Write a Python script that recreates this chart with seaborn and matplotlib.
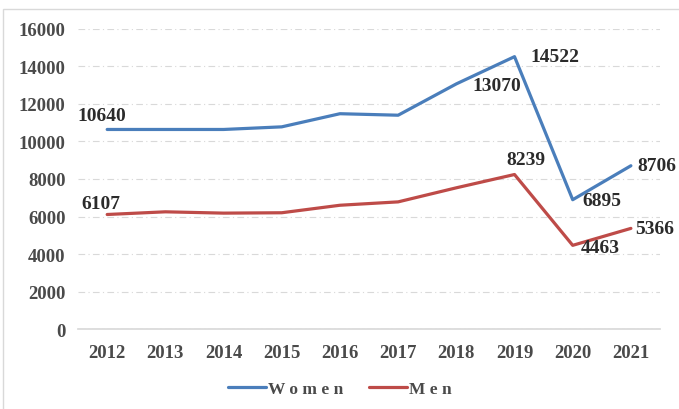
import pandas as pd
import matplotlib.pyplot as plt
import seaborn as sns
from matplotlib.patches import Rectangle

years = [2012, 2013, 2014, 2015, 2016, 2017, 2018, 2019, 2020, 2021]
women = [10640, 10640, 10640, 10780, 11480, 11400, 13070, 14522, 6895, 8706]
men = [6107, 6250, 6180, 6200, 6600, 6780, 7530, 8239, 4463, 5366]

df = pd.DataFrame({'Year': years * 2,
                   'Value': women + men,
                   'Group': ['Women'] * len(years) + ['Men'] * len(years)})

sns.set_theme(style='white')
plt.rcParams['font.family'] = ['Liberation Serif', 'DejaVu Serif']
plt.rcParams['font.weight'] = 'bold'

fig = plt.figure(figsize=(6.79, 4.10), dpi=100)
ax = fig.add_axes([0.115, 0.195, 0.857, 0.732])

sns.lineplot(data=df, x='Year', y='Value', hue='Group',
             palette={'Women': '#4a7ebb', 'Men': '#be4b48'},
             linewidth=2.3, ax=ax, legend=False)

ax.set_xlim(2011.5, 2021.5)
ax.set_ylim(0, 16000)
ax.set_yticks(range(0, 16001, 2000))
ax.set_xticks(years)
ax.set_xlabel('')
ax.set_ylabel('')
ax.grid(axis='y', color='#d9d9d9', linestyle=(0, (6, 3, 1, 3)), linewidth=0.8)
ax.set_axisbelow(True)
for s in ['top', 'right', 'left']:
    ax.spines[s].set_visible(False)
ax.spines['bottom'].set_color('#d9d9d9')
ax.tick_params(axis='both', length=0, labelsize=13.5, labelcolor='#4a4a4a')
ax.tick_params(axis='x', pad=11)
ax.tick_params(axis='y', pad=9)
for t in ax.get_xticklabels() + ax.get_yticklabels():
    t.set_fontweight('bold')

# data labels (year index, series, offset px, alignment)
labels = [
    (0, women, (-5, 14), 'center'),
    (6, women, (16, -2), 'left'),
    (7, women, (16, 0), 'left'),
    (8, women, (10, -1), 'left'),
    (9, women, (6, 0), 'left'),
    (0, men, (-6, 11), 'center'),
    (7, men, (11, 15), 'center'),
    (8, men, (8, -2), 'left'),
    (9, men, (4, 0), 'left'),
]
for i, series, off, ha in labels:
    ax.annotate(str(series[i]), (years[i], series[i]), xytext=off,
                textcoords='offset pixels', ha=ha, va='center',
                fontsize=14, fontweight='bold', color='#2b2b2b')

handles = [plt.Line2D([], [], color='#4a7ebb', lw=2.3),
           plt.Line2D([], [], color='#be4b48', lw=2.3)]
fig.legend(handles, ['W o m e n', 'M e n'], loc='center', bbox_to_anchor=(0.5, 0.05),
           ncol=2, frameon=False, handlelength=2.2, handletextpad=0.1,
           columnspacing=1.5, prop={'size': 12.5, 'weight': 'bold'},
           labelcolor='#4a4a4a')

fig.add_artist(Rectangle((3 / 679, -0.1), 1.2, 1.1 - 10 / 410, transform=fig.transFigure,
                         fill=False, edgecolor='#d9d9d9', linewidth=1))

fig.savefig('out.png', dpi=100)
